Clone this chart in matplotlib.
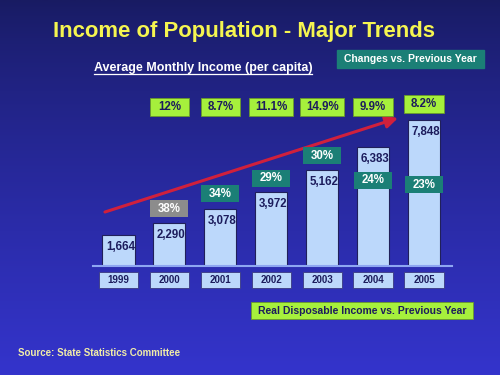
import numpy as np
import matplotlib.pyplot as plt
from matplotlib.patches import Rectangle
from matplotlib.lines import Line2D

plt.rcParams['font.family'] = ['Liberation Sans', 'DejaVu Sans']

years = ['1999', '2000', '2001', '2002', '2003', '2004', '2005']
income = [1664, 2290, 3078, 3972, 5162, 6383, 7848]
nominal_growth = ['38%', '34%', '29%', '30%', '24%', '23%']   # 2000..2005
real_growth = ['12%', '8.7%', '11.1%', '14.9%', '9.9%', '8.2%']  # 2000..2005

navy = '#1c1c5c'
teal = '#1b7f76'
lime = '#a6f03c'
barblue = '#bcd8fb'

fig = plt.figure(figsize=(5, 3.75), dpi=100)

# background gradient
bg = fig.add_axes([0, 0, 1, 1])
grad = np.linspace(0, 1, 256).reshape(-1, 1)
top = np.array([0x18, 0x1b, 0x62]) / 255
bot = np.array([0x34, 0x34, 0xcc]) / 255
img = top + (bot - top) * grad[:, :, None] ** 0.8
bg.imshow(img, aspect='auto', extent=[0, 1, 0, 1])
bg.set_axis_off()

# chart axes: baseline at 266 px, 0.0186 px per unit
ax = fig.add_axes([93 / 500, 109 / 375, 359 / 500, 176 / 375])
ax.set_xlim(-0.5, 6.55)
ax.set_ylim(0, 176 / 0.0186)
ax.set_axis_off()
k = 1 / 0.0186  # data units per pixel

x = np.arange(len(years))
ax.bar(x, income, width=0.63, color=barblue, edgecolor='#20205a', linewidth=0.8, zorder=2)
ax.plot([-0.5, 6.55], [0, 0], color='#8ea6f2', lw=1.5, zorder=3, clip_on=False)

# year boxes below baseline
ax.bar(x, 16 * k, bottom=-22 * k, width=0.77, color=barblue, edgecolor='#3a3a80',
       linewidth=0.6, clip_on=False, zorder=2)
for xi, yr in zip(x, years):
    ax.text(xi, -14 * k, yr, ha='center', va='center', fontsize=7, fontweight='bold',
            color=navy, clip_on=False, zorder=4)

# value labels
for xi, v in zip(x, income):
    ax.text(xi + 0.04, v - 12 * k, f'{v:,}', ha='center', va='center', fontsize=8.3,
            fontweight='bold', color=navy, zorder=4)

# nominal growth boxes
box_y = [3091, 3871, 4731, 5914, 4597, 4355]
for i, (lab, yc) in enumerate(zip(nominal_growth, box_y)):
    xi = i + 1
    c = '#8c8c8c' if i == 0 else teal
    ax.bar(xi, 17 * k, bottom=yc - 8.5 * k, width=0.75, color=c, clip_on=False, zorder=5)
    ax.text(xi, yc, lab, ha='center', va='center', fontsize=8.3, fontweight='bold',
            color='white', clip_on=False, zorder=6)

# real growth boxes
for i, lab in enumerate(real_growth):
    xi = i + 1
    yc = (266 - 107) * k if i < 5 else (266 - 104) * k
    w = 0.86 if len(lab) > 4 else 0.77
    ax.bar(xi, 18 * k, bottom=yc - 9 * k, width=w, color=lime, edgecolor='#6a9a2a',
           linewidth=0.6, clip_on=False, zorder=5)
    ax.text(xi, yc, lab, ha='center', va='center', fontsize=8.3, fontweight='bold',
            color=navy, clip_on=False, zorder=6)

# trend arrow
ax.annotate('', xy=(5.49, 7957), xytext=(-0.265, 2903),
            arrowprops=dict(arrowstyle='-|>,head_length=0.6,head_width=0.3', color='#d0203c',
                            lw=2.2, mutation_scale=12, shrinkA=0, shrinkB=0),
            annotation_clip=False, zorder=3)

# texts
fig.text(0.488, 0.9147, 'Income of Population - Major Trends', ha='center', va='center',
         fontsize=15.9, fontweight='bold', color='#f5f550')
fig.text(0.406, 0.8187, 'Average Monthly Income (per capita)', ha='center', va='center',
         fontsize=9, fontweight='bold', color='white')
fig.add_artist(Line2D([94 / 500, 312 / 500], [0.8027, 0.8027], color='white', lw=0.9))

fig.add_artist(Rectangle((0.674, 0.8187), 0.294, 0.048, color=teal, transform=fig.transFigure))
fig.text(0.821, 0.8427, 'Changes vs. Previous Year', ha='center', va='center',
         fontsize=7.5, fontweight='bold', color='white')

fig.add_artist(Rectangle((0.502, 0.1493), 0.444, 0.0453, facecolor=lime, edgecolor='#6a9a2a',
                         lw=0.6, transform=fig.transFigure))
fig.text(0.724, 0.172, 'Real Disposable Income vs. Previous Year', ha='center', va='center',
         fontsize=7.5, fontweight='bold', color=navy)

fig.text(0.035, 0.0587, 'Source: State Statistics Committee', ha='left', va='center',
         fontsize=7, fontweight='bold', color='#f0eca8')

fig.savefig('out.png', dpi=100)
